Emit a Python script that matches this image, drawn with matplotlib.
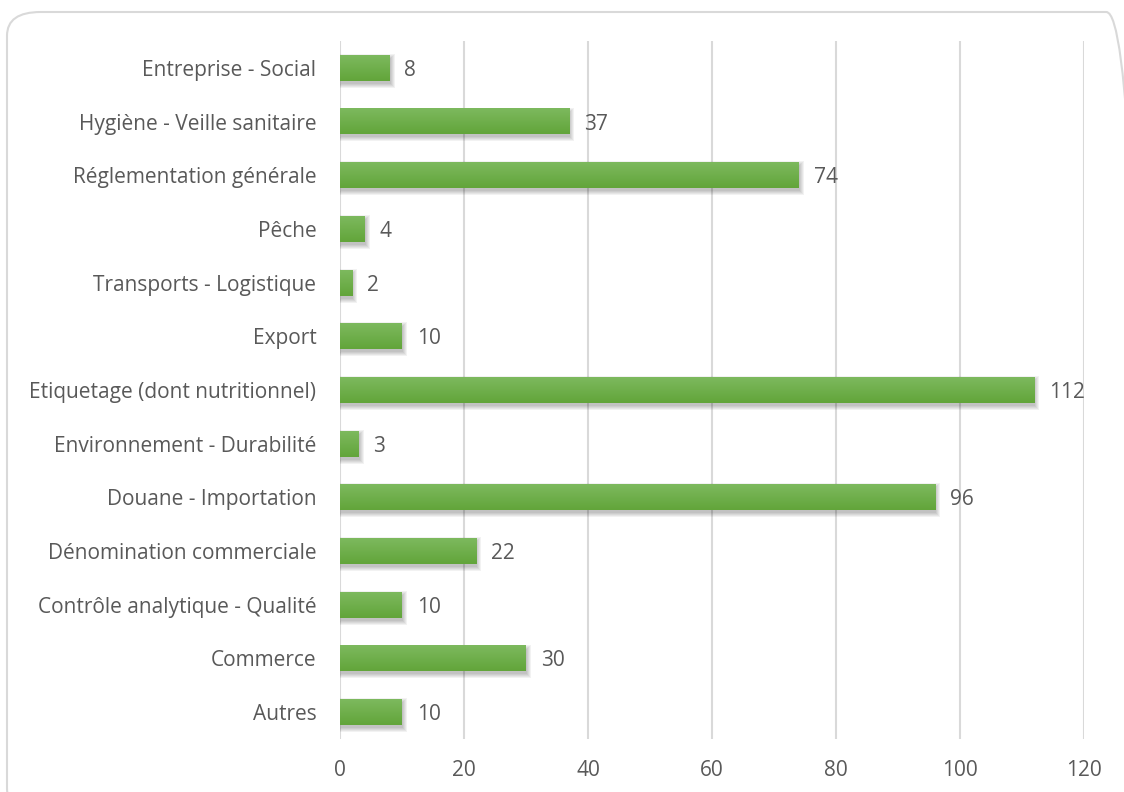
import numpy as np
import matplotlib
matplotlib.use('Agg')
import matplotlib.pyplot as plt
from matplotlib.patches import FancyBboxPatch
from matplotlib.colors import LinearSegmentedColormap

# donnees (de haut en bas dans le graphique)
categories = ['Entreprise - Social', 'Hygiène - Veille sanitaire', 'Réglementation générale',
              'Pêche', 'Transports - Logistique', 'Export', 'Etiquetage (dont nutritionnel)',
              'Environnement - Durabilité', 'Douane - Importation', 'Dénomination commerciale',
              'Contrôle analytique - Qualité', 'Commerce', 'Autres']
values = [8, 37, 74, 4, 2, 10, 112, 3, 96, 22, 10, 30, 10]
xticks = [0, 20, 40, 60, 80, 100, 120]

plt.rcParams['font.family'] = ['Open Sans', 'DejaVu Sans']
txt_color = '#595959'
fs = 15

fig = plt.figure(figsize=(11.24, 7.92), dpi=100)

# cadre arrondi
frame = FancyBboxPatch((7 / 1124, -20 / 792), (1140 - 7) / 1124, (792 - 12 + 20) / 792,
                       boxstyle='round,pad=0,rounding_size=0.03',
                       transform=fig.transFigure, facecolor='none',
                       edgecolor='#d9d9d9', linewidth=1.5, zorder=-1)
fig.patches.append(frame)

ax = fig.add_axes([340 / 1124, 1 - 739 / 792, (1084 - 340) / 1124, 698 / 792])
ax.set_facecolor('none')

n = len(categories)
ypos = np.arange(n)[::-1]
h = 0.48
px_x = 120 / 744.0   # un pixel en unites x
px_y = n / 698.0     # un pixel en unites y

cmap = LinearSegmentedColormap.from_list('vert', ['#62a53a', '#7db95e'])
grad = np.linspace(0, 1, 50).reshape(-1, 1)

for y, v in zip(ypos, values):
    # ombre floue
    for k in range(1, 6):
        ax.barh(y - 3 * px_y, v + (2 * k - 2) * px_x, height=h + (2 * k - 2) * px_y,
                left=-(k - 2) * px_x, color='#000000', alpha=0.05, zorder=2, linewidth=0)
    ax.imshow(grad, extent=(0, v, y - h / 2, y + h / 2), cmap=cmap, aspect='auto',
              origin='lower', zorder=3, interpolation='bicubic')
    ax.text(v + 2.4, y, str(v), va='center_baseline', ha='left', fontsize=fs,
            color=txt_color, zorder=4)

ax.set_xlim(0, 120)
ax.set_ylim(-0.5, n - 0.5)
ax.set_xticks(xticks)
ax.set_yticks(ypos)
ax.set_yticklabels(categories, va='center_baseline')
ax.tick_params(axis='both', length=0, labelsize=fs, labelcolor=txt_color)
ax.tick_params(axis='y', pad=17)
ax.tick_params(axis='x', pad=15)
ax.grid(axis='x', color='#d9d9d9', linewidth=1.5, zorder=1)
ax.set_axisbelow(True)
for s in ax.spines.values():
    s.set_visible(False)

fig.savefig('out.png', dpi=100)
